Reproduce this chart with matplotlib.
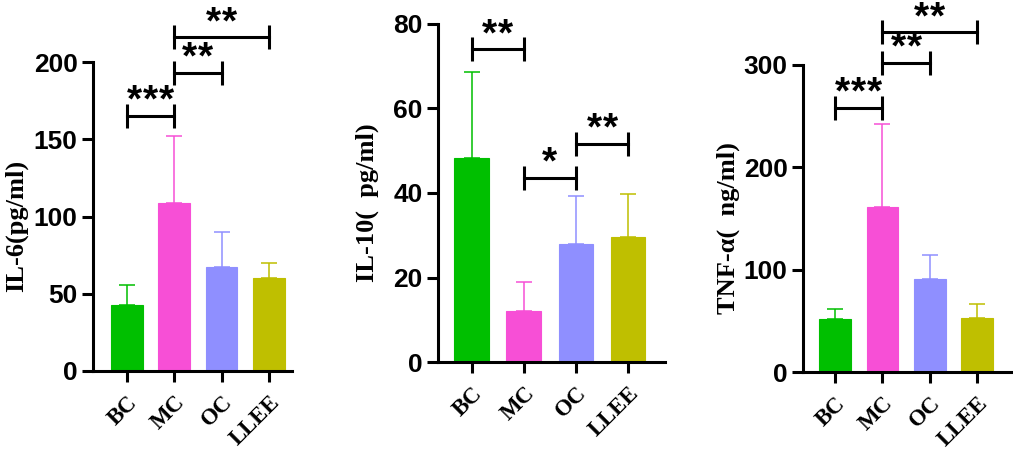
import numpy as np
import matplotlib
matplotlib.use('Agg')
import matplotlib.pyplot as plt

groups = ['BC', 'MC', 'OC', 'LLEE']
colors = ['#00BF00', '#F74FD6', '#8F8FFF', '#BFBF00']

il6_mean = [42.7, 108.7, 67.5, 60.0]
il6_sd = [13.0, 43.5, 22.5, 10.0]
il6_sig = [(0, 1, 165, '***'), (1, 2, 193, '**'), (1, 3, 216, '**')]

il10_mean = [48.3, 12.1, 28.0, 29.6]
il10_sd = [20.4, 6.9, 11.3, 10.2]
il10_sig = [(0, 1, 74, '**'), (1, 2, 43.6, '*'), (2, 3, 51.7, '**')]

tnf_mean = [51.8, 161.0, 91.0, 52.6]
tnf_sd = [9.8, 81.0, 23.0, 14.0]
tnf_sig = [(0, 1, 258, '***'), (1, 2, 302, '**'), (1, 3, 332, '**')]

W, H = 1013, 450
fig = plt.figure(figsize=(W / 100, H / 100), dpi=100)

serif = ['Liberation Serif', 'DejaVu Serif']
sans = ['Liberation Sans', 'DejaVu Sans']


def panel(box, mean, sd, sig, ymax, step, xlim, ylab, lab_xy):
    l, r, b, t = box
    ax = fig.add_axes([l / W, 1 - b / H, (r - l) / W, (b - t) / H])
    x = np.arange(len(groups))
    ax.bar(x, mean, width=0.67, color=colors, edgecolor=colors, linewidth=0.8, zorder=2)
    for xi, m, s, c in zip(x, mean, sd, colors):
        ax.errorbar(xi, m, yerr=[[0], [s]], color=c, elinewidth=1.1, capsize=5.5,
                    capthick=1.1, zorder=1)
    ax.set_ylim(0, ymax)
    ax.set_xlim(*xlim)
    ax.set_yticks(np.arange(0, ymax + 1, step))
    ax.set_xticks(x)
    ax.set_xticklabels(groups, rotation=45, ha='right', va='top', rotation_mode='anchor',
                       family=serif, fontweight='bold', fontsize=16.5)
    for lbl in ax.get_yticklabels():
        lbl.set_family(sans)
        lbl.set_fontweight('bold')
        lbl.set_fontsize(19)
    for s in ['top', 'right']:
        ax.spines[s].set_visible(False)
    for s in ['left', 'bottom']:
        ax.spines[s].set_linewidth(2.2)
    ax.tick_params(width=2.2, length=8, pad=3)
    ax.tick_params(axis='x', pad=7)
    for i, j, y, txt in sig:
        ax.plot([i, j], [y, y], color='black', lw=2.2, clip_on=False,
                marker='|', markersize=17, markeredgewidth=2.2)
        n = len(txt)
        for k in range(n):
            ax.annotate('*', ((i + j) / 2, y), xytext=((k - (n - 1) / 2) * 11.5, 3),
                        textcoords='offset points', ha='center', va='baseline',
                        fontsize=28, fontweight='bold', family=sans,
                        annotation_clip=False)
    fig.text(lab_xy[0] / W, 1 - lab_xy[1] / H, ylab, rotation=90, ha='center', va='center',
             family=serif, fontweight='bold', fontsize=19)
    return ax


panel((93, 292, 371, 62), il6_mean, il6_sd, il6_sig, 200, 50, (-0.72, 3.49),
      'IL-6(pg/ml)', (16, 226))
panel((438, 665, 362, 24), il10_mean, il10_sd, il10_sig, 80, 20, (-0.65, 3.71),
      'IL-10(  pg/ml)', (367, 203))
panel((803, 1012, 372, 65), tnf_mean, tnf_sd, tnf_sig, 300, 100, (-0.68, 3.74),
      'TNF-α(  ng/ml)', (728, 228))

fig.savefig('out.png', dpi=100)
